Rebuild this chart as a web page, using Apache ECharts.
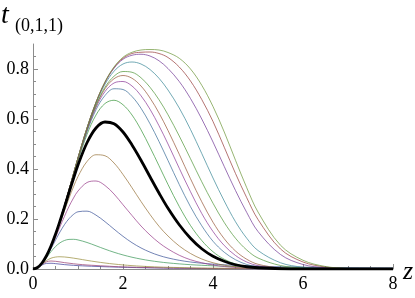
<!DOCTYPE html>
<html>
<head>
<meta charset="utf-8">
<script src="https://cdn.jsdelivr.net/npm/echarts@6/dist/echarts.min.js"></script>
<style>
html,body{margin:0;padding:0;background:#fff;}
#chart{width:415px;height:298px;}
</style>
</head>
<body>
<div id="chart"></div>
<script>
// z sample points shared by every curve
var zValues = [0,0.1,0.2,0.3,0.4,0.5,0.6,0.7,0.8,0.9,1.0,1.2,1.4,1.6,1.8,2.0,2.2,2.4,2.6,2.8,3.0,3.25,3.5,3.75,4.0,4.25,4.5,4.75,5.0,5.5,6.0,6.5,7.0,7.5,8.0];

var curve01 = [0,0.0055,0.016,0.0225,0.023,0.0215,0.0195,0.0175,0.016,0.0147,0.0135,0.0118,0.0103,0.009,0.0078,0.0068,0.006,0.0052,0.0045,0.0039,0.0033,0.0027,0.0022,0.0018,0.0014,0.0012,0.001,0.0008,0.0007,0.0005,0.0004,0.0003,0.0002,0.0002,0.0001];
var curve02 = [0,0.0058,0.0189,0.0289,0.032,0.0308,0.0283,0.0255,0.0232,0.021,0.019,0.016,0.014,0.012,0.010,0.0085,0.0074,0.0064,0.0056,0.0049,0.0042,0.0035,0.0028,0.0023,0.0018,0.0015,0.0012,0.001,0.0008,0.0005,0.0003,0.0002,0.0001,0.0001,0];
var curve03 = [0,0.0058,0.0197,0.0337,0.0432,0.0478,0.049,0.0481,0.0461,0.0435,0.0406,0.0345,0.0289,0.024,0.0198,0.0163,0.0135,0.0112,0.0095,0.008,0.0068,0.0058,0.0048,0.0041,0.0035,0.003,0.0026,0.0023,0.002,0.0016,0.0013,0.0011,0.0009,0.0008,0.0007];
var curve04 = [0,0.006,0.0225,0.0453,0.0693,0.0897,0.1048,0.1141,0.1184,0.1188,0.1163,0.1061,0.0929,0.0794,0.067,0.0562,0.0471,0.0396,0.0334,0.0285,0.0244,0.0205,0.0172,0.0148,0.0127,0.0111,0.0097,0.0086,0.0076,0.0062,0.005,0.0042,0.0035,0.003,0.0026];
var curve05 = [0,0.006,0.0232,0.0492,0.0812,0.1154,0.1484,0.1777,0.2013,0.2185,0.2289,0.2314,0.2155,0.1892,0.1595,0.1307,0.1053,0.0842,0.0674,0.0542,0.0442,0.0348,0.028,0.0232,0.0195,0.017,0.0145,0.0128,0.0112,0.009,0.0074,0.006,0.005,0.0045,0.004];
var curve06 = [0,0.006,0.0235,0.051,0.086,0.126,0.169,0.211,0.250,0.284,0.312,0.346,0.352,0.334,0.300,0.257,0.214,0.172,0.136,0.105,0.080,0.055,0.037,0.025,0.016,0.010,0.006,0.004,0.002,0.001,0,0,0,0,0];
var curve07 = [0,0.006,0.024,0.052,0.090,0.134,0.183,0.234,0.283,0.329,0.370,0.430,0.457,0.453,0.424,0.378,0.325,0.270,0.218,0.171,0.132,0.092,0.062,0.040,0.025,0.015,0.009,0.005,0.003,0.001,0,0,0,0,0];
var curve08 = [0,0.006,0.024,0.053,0.092,0.140,0.194,0.253,0.313,0.374,0.433,0.538,0.616,0.662,0.675,0.657,0.616,0.557,0.487,0.413,0.338,0.250,0.174,0.114,0.069,0.039,0.020,0.010,0.004,0.001,0,0,0,0,0];
var curve09 = [0,0.006,0.024,0.053,0.092,0.140,0.194,0.254,0.315,0.378,0.439,0.549,0.637,0.694,0.721,0.718,0.690,0.643,0.581,0.510,0.434,0.338,0.249,0.173,0.111,0.067,0.037,0.018,0.008,0.001,0,0,0,0,0];
var curve10 = [0,0.006,0.024,0.053,0.092,0.140,0.195,0.254,0.316,0.379,0.441,0.554,0.646,0.710,0.744,0.750,0.732,0.693,0.639,0.573,0.500,0.403,0.309,0.222,0.150,0.094,0.054,0.028,0.013,0.002,0,0,0,0,0];
var curve11 = [0,0.006,0.024,0.053,0.092,0.140,0.195,0.254,0.317,0.380,0.442,0.558,0.652,0.721,0.761,0.774,0.763,0.732,0.684,0.624,0.554,0.459,0.361,0.269,0.187,0.121,0.072,0.039,0.019,0.004,0.001,0,0,0,0];
var curve12 = [0,0.006,0.024,0.053,0.092,0.140,0.195,0.254,0.317,0.380,0.443,0.559,0.656,0.727,0.771,0.790,0.787,0.765,0.727,0.677,0.617,0.532,0.441,0.349,0.263,0.186,0.123,0.076,0.044,0.014,0.004,0.001,0,0,0];
var curve13 = [0,0.006,0.024,0.053,0.092,0.140,0.195,0.255,0.317,0.381,0.444,0.563,0.663,0.739,0.791,0.820,0.828,0.820,0.798,0.763,0.716,0.644,0.558,0.462,0.364,0.272,0.189,0.123,0.074,0.025,0.007,0.002,0,0,0];
var curve14 = [0,0.006,0.024,0.053,0.092,0.140,0.195,0.255,0.317,0.381,0.445,0.564,0.666,0.746,0.803,0.839,0.855,0.859,0.852,0.833,0.802,0.750,0.682,0.600,0.508,0.410,0.314,0.226,0.150,0.058,0.018,0.005,0.001,0,0];
var curve15 = [0,0.006,0.024,0.053,0.092,0.140,0.195,0.255,0.317,0.381,0.445,0.564,0.667,0.747,0.806,0.843,0.862,0.867,0.868,0.862,0.846,0.808,0.752,0.678,0.590,0.487,0.382,0.285,0.198,0.080,0.028,0.008,0.0015,0,0];
var curve16 = [0,0.006,0.024,0.053,0.092,0.140,0.195,0.255,0.317,0.381,0.445,0.565,0.667,0.749,0.808,0.847,0.867,0.876,0.878,0.876,0.866,0.843,0.800,0.735,0.650,0.548,0.435,0.325,0.228,0.095,0.035,0.010,0.002,0,0];
var curveBlack = [0,0.006,0.024,0.053,0.092,0.139,0.192,0.248,0.306,0.362,0.416,0.505,0.564,0.588,0.581,0.548,0.496,0.435,0.369,0.304,0.243,0.177,0.123,0.081,0.051,0.031,0.017,0.009,0.005,0.001,0,0,0,0,0];

var xTickLabels = ['0','2','4','6','8'];
var yTickLabels = ['0.0','0.2','0.4','0.6','0.8'];

var colouredCurves = [curve01,curve02,curve03,curve04,curve05,curve06,curve07,curve08,curve09,curve10,curve11,curve12,curve13,curve14,curve15,curve16];
var curveColours = ['#3f3d99','#993d70','#998e3d','#3d9959','#3d5599','#993d8a','#99743d','#3d993f','#3d6f99','#8e3d99','#995a3d','#55993d','#3d8999','#743d99','#99403d','#6f993d'];

function pairs(arr){ return zValues.map(function(z,i){ return [z, arr[i]]; }); }

var series = colouredCurves.map(function(arr, i){
  return {
    type:'line', data: pairs(arr), showSymbol:false, smooth:0.35,
    lineStyle:{color: curveColours[i], width:1, opacity:0.72},
    silent:true, z:2
  };
});
series.push({
  type:'line', data: pairs(curveBlack), showSymbol:false, smooth:0.35,
  lineStyle:{color:'#000', width:2.8}, silent:true, z:3
});

var serif = '"Liberation Serif","DejaVu Serif",serif';
var axisGrey = '#8c8c8c';

var chart = echarts.init(document.getElementById('chart'), null, {renderer:'canvas'});
chart.setOption({
  animation:false,
  backgroundColor:'#fff',
  grid:{left:33, right:22, top:44, bottom:29, containLabel:false},
  xAxis:{
    type:'value', min:0, max:8, interval:2,
    axisLine:{show:true, lineStyle:{color:axisGrey, width:1}},
    axisTick:{show:true, inside:true, length:5, lineStyle:{color:axisGrey}},
    minorTick:{show:true, splitNumber:4, length:3, lineStyle:{color:axisGrey}},
    splitLine:{show:false},
    axisLabel:{margin:6, color:'#000', fontFamily:serif, fontSize:18,
      formatter:function(v){ var k = Math.round(v/2); return xTickLabels[k] !== undefined ? xTickLabels[k] : ''; }}
  },
  yAxis:{
    type:'value', min:0, max:0.9, interval:0.2,
    axisLine:{show:true, lineStyle:{color:axisGrey, width:1}},
    axisTick:{show:true, inside:true, length:5, lineStyle:{color:axisGrey}, customValues:[0,0.2,0.4,0.6,0.8]},
    minorTick:{show:true, splitNumber:4, length:3, lineStyle:{color:axisGrey}},
    splitLine:{show:false},
    axisLabel:{margin:4, color:'#000', fontFamily:serif, fontSize:18,
      formatter:function(v){ if (v > 0.85) return ''; var k = Math.round(v/0.2); return yTickLabels[k] !== undefined ? yTickLabels[k] : ''; }}
  },
  graphic:[
    {type:'text', left:1, top:2, style:{text:'t', fontFamily:serif, fontStyle:'italic', fontSize:28, fill:'#000'}},
    {type:'text', left:15, top:17, style:{text:'(0,1,1)', fontFamily:serif, fontSize:18, fill:'#000'}},
    {type:'text', left:403, top:259, style:{text:'z', fontFamily:serif, fontStyle:'italic', fontSize:26, fill:'#000'}}
  ],
  series: series
});
</script>
</body>
</html>
